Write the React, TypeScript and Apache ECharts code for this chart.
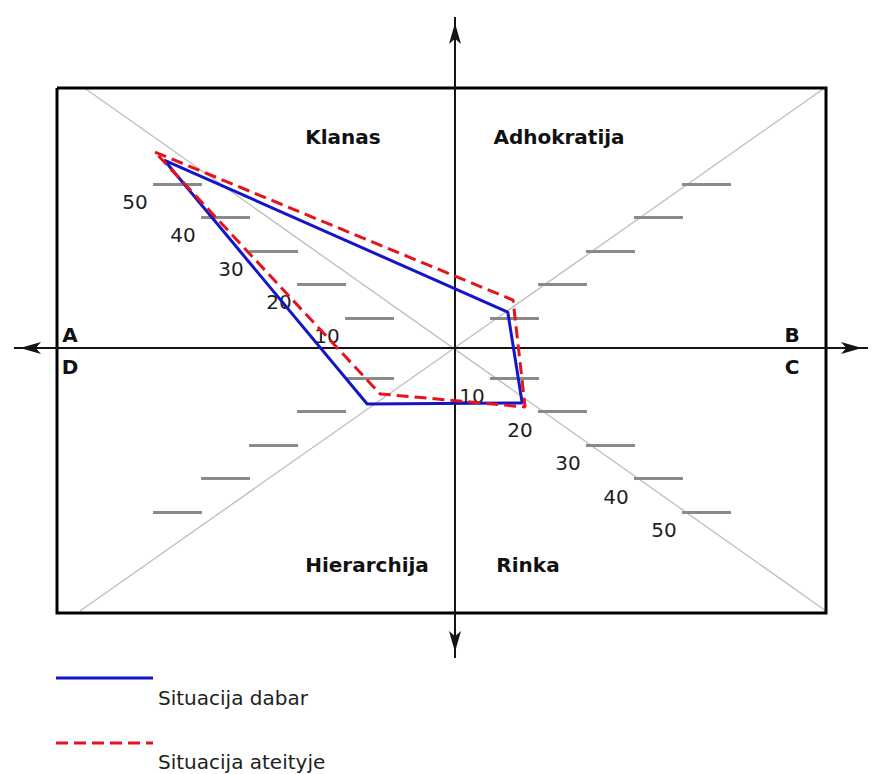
import React, { useEffect, useRef } from "react";
import * as echarts from "echarts";

// ---- data (scale units: 10 units = one tick step) ----
const cultures = ["Klanas", "Adhokratija", "Rinka", "Hierarchija"];
const dabarX = [-60.6, 11.0, 14.0, -18.3];
const dabarY = [56.1, 10.7, -16.4, -16.7];
const ateitisX = [-62.5, 12.1, 14.6, -15.6];
const ateitisY = [58.5, 14.3, -17.6, -13.7];
const scaleTicks = [10, 20, 30, 40, 50];
const seriesNames = ["Situacija dabar", "Situacija ateityje"];
const cornerLetters = ["A", "B", "C", "D"];

// ---- layout ----
const W = 875;
const H = 774;
const OX = 455;
const OY = 348;
const KX = 4.8; // px per unit horizontally
const KY = 3.35; // px per unit vertically
const ux = (px: number) => (px - OX) / KX;
const uy = (py: number) => (OY - py) / KY;

const BLUE = "#1414c8";
const RED = "#e3141c";
const FONT = "DejaVu Sans";

export default function App() {
  const ref = useRef<HTMLDivElement>(null);

  useEffect(() => {
    if (!ref.current) return;
    const chart = echarts.init(ref.current, null, { renderer: "svg" });

    const closed = (xs: number[], ys: number[]) => {
      const pts = xs.map((x, i) => [x, ys[i]]);
      pts.push(pts[0]);
      return pts;
    };

    // tick segments
    const tickData: any[] = [];
    const tickLabels: any[] = [];
    scaleTicks.forEach((v) => {
      const ty = v - 1;
      tickData.push({ coords: [[-(v + 12.9), ty], [-(v + 2.7), ty]] });
      tickData.push({ coords: [[-(v + 12.9), -ty], [-(v + 2.7), -ty]] });
      tickData.push({ coords: [[v - 2.7, ty], [v + 7.5, ty]] });
      tickData.push({ coords: [[v - 2.7, -ty], [v + 7.5, -ty]] });
      tickLabels.push([-(v + 12.9), ty, v]);
      tickLabels.push([v - 2.7, -ty, v]);
    });

    const quadrantPos = [
      [ux(343), uy(137)],
      [ux(559), uy(137)],
      [ux(528), uy(565)],
      [ux(367), uy(565)],
    ];

    const letterPos = [
      [70, 335],
      [792, 335],
      [792, 367],
      [70, 367],
    ];

    const arrowData = [
      { value: [ux(OX), uy(13 + 10)], symbolRotate: 0 },
      { value: [ux(OX), uy(662 - 10)], symbolRotate: 180 },
      { value: [ux(10 + 10), uy(OY)], symbolRotate: 90 },
      { value: [ux(872 - 10), uy(OY)], symbolRotate: -90 },
    ];

    const option: any = {
      animation: false,
      backgroundColor: "#ffffff",
      grid: { left: 0, top: 0, width: W, height: H, containLabel: false },
      xAxis: { type: "value", min: ux(0), max: ux(W), show: false },
      yAxis: { type: "value", min: uy(H), max: uy(0), show: false },
      series: [
        {
          type: "lines",
          coordinateSystem: "cartesian2d",
          silent: true,
          symbol: "none",
          lineStyle: { color: "#bdbdbd", width: 1.3, opacity: 1 },
          data: [
            { coords: [[ux(83), uy(87)], [ux(826), uy(611)]] },
            { coords: [[ux(80), uy(611)], [ux(826), uy(87)]] },
          ],
          z: 1,
        },
        {
          type: "lines",
          coordinateSystem: "cartesian2d",
          silent: true,
          polyline: true,
          symbol: "none",
          lineStyle: { color: "#000000", width: 3, opacity: 1 },
          data: [
            {
              coords: [
                [ux(57), uy(88)],
                [ux(826), uy(88)],
                [ux(826), uy(613)],
                [ux(57), uy(613)],
                [ux(57), uy(88)],
              ],
            },
          ],
          z: 2,
        },
        {
          type: "lines",
          coordinateSystem: "cartesian2d",
          silent: true,
          symbol: "none",
          lineStyle: { color: "#8a8a8a", width: 3, opacity: 1 },
          data: tickData,
          z: 2,
        },
        {
          type: "lines",
          coordinateSystem: "cartesian2d",
          silent: true,
          symbol: "none",
          lineStyle: { color: "#151515", width: 2, opacity: 1 },
          data: [
            { coords: [[ux(14), uy(OY)], [ux(868), uy(OY)]] },
            { coords: [[ux(OX), uy(17)], [ux(OX), uy(658)]] },
          ],
          z: 3,
        },
        {
          type: "scatter",
          silent: true,
          symbol: "arrow",
          symbolSize: [9, 21],
          itemStyle: { color: "#151515", opacity: 1 },
          data: arrowData,
          z: 4,
        },
        {
          type: "scatter",
          silent: true,
          symbolSize: 1,
          itemStyle: { color: "transparent", opacity: 1 },
          data: tickLabels,
          label: {
            show: true,
            position: "inside",
            offset: [-18, 18],
            formatter: (p: any) => String(p.value[2]),
            color: "#1e1e1e",
            opacity: 1,
            fontFamily: FONT,
            fontSize: 20,
            align: "center",
            verticalAlign: "middle",
          },
          z: 5,
        },
        {
          type: "scatter",
          silent: true,
          symbolSize: 1,
          itemStyle: { color: "transparent", opacity: 1 },
          data: quadrantPos.map((p, i) => ({ value: p, name: cultures[i] })),
          label: {
            show: true,
            position: "inside",
            formatter: (p: any) => p.name,
            color: "#111111",
            opacity: 1,
            fontFamily: FONT,
            fontWeight: "bold",
            fontSize: 20,
            align: "center",
            verticalAlign: "middle",
          },
          z: 5,
        },
        {
          name: seriesNames[0],
          type: "line",
          silent: true,
          symbol: "none",
          lineStyle: { color: BLUE, width: 3 },
          itemStyle: { color: BLUE },
          data: closed(dabarX, dabarY),
          z: 6,
        },
        {
          name: seriesNames[1],
          type: "line",
          silent: true,
          symbol: "none",
          lineStyle: { color: RED, width: 3, type: [12, 6] },
          itemStyle: { color: RED },
          data: closed(ateitisX, ateitisY),
          z: 7,
        },
      ],
      graphic: [
        ...cornerLetters.map((t, i) => ({
          type: "text",
          x: letterPos[i][0],
          y: letterPos[i][1],
          style: {
            text: t,
            fill: "#111111",
            fontFamily: FONT,
            fontWeight: "bold",
            fontSize: 20,
            align: "center",
            verticalAlign: "middle",
          },
          z: 10,
        })),
        {
          type: "line",
          shape: { x1: 56, y1: 678, x2: 153, y2: 678 },
          style: { stroke: BLUE, lineWidth: 3 },
        },
        {
          type: "text",
          x: 158,
          y: 698,
          style: {
            text: seriesNames[0],
            fill: "#1e1e1e",
            fontFamily: FONT,
            fontSize: 20,
            align: "left",
            verticalAlign: "middle",
          },
        },
        {
          type: "line",
          shape: { x1: 56, y1: 743, x2: 153, y2: 743 },
          style: { stroke: RED, lineWidth: 3, lineDash: [12, 6] },
        },
        {
          type: "text",
          x: 158,
          y: 762,
          style: {
            text: seriesNames[1],
            fill: "#1e1e1e",
            fontFamily: FONT,
            fontSize: 20,
            align: "left",
            verticalAlign: "middle",
          },
        },
      ],
    };

    chart.setOption(option);
    return () => chart.dispose();
  }, []);

  return (
    <div
      ref={ref}
      style={{ position: "absolute", left: 0, top: 0, width: W, height: H, background: "#fff" }}
    />
  );
}
